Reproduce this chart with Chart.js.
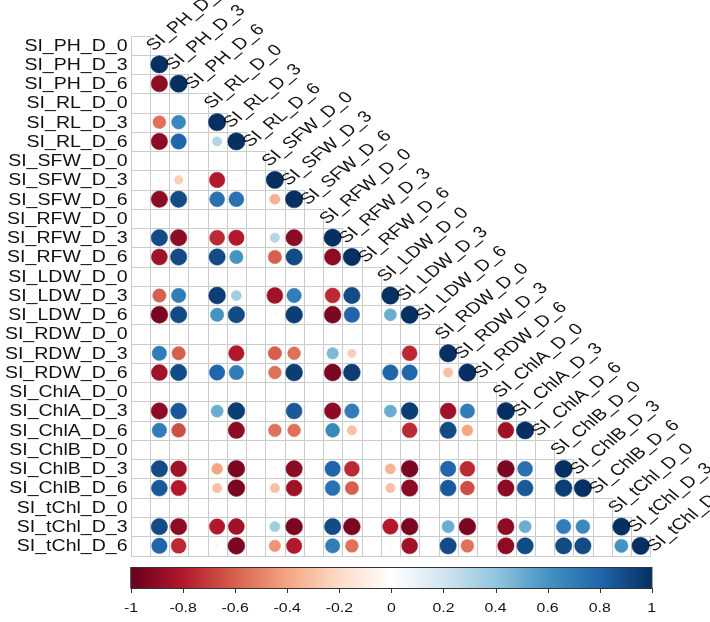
<!DOCTYPE html>
<html>
<head>
<meta charset="utf-8">
<script src="https://cdn.jsdelivr.net/npm/chart.js@4.4.1/dist/chart.umd.min.js"></script>
<style>
  html, body { margin: 0; padding: 0; background: #fff; }
  #corr-chart { display: block; }
</style>
</head>
<body>
<canvas id="corr-chart" width="710" height="622"></canvas>
<script>
//Variable names (rows and columns)
const varNames = [
  "SI_PH_D_0", "SI_PH_D_3", "SI_PH_D_6",
  "SI_RL_D_0", "SI_RL_D_3", "SI_RL_D_6",
  "SI_SFW_D_0", "SI_SFW_D_3", "SI_SFW_D_6",
  "SI_RFW_D_0", "SI_RFW_D_3", "SI_RFW_D_6",
  "SI_LDW_D_0", "SI_LDW_D_3", "SI_LDW_D_6",
  "SI_RDW_D_0", "SI_RDW_D_3", "SI_RDW_D_6",
  "SI_ChlA_D_0", "SI_ChlA_D_3", "SI_ChlA_D_6",
  "SI_ChlB_D_0", "SI_ChlB_D_3", "SI_ChlB_D_6",
  "SI_tChl_D_0", "SI_tChl_D_3", "SI_tChl_D_6"
];

//Lower triangle of the correlation matrix, null = NA (D_0 columns)
const n = null;
const corrLower = [
  [n],
  [n, 1],
  [n, -0.9, 1],
  [n, n, n, n],
  [n, -0.55, 0.65, n, 1],
  [n, -0.9, 0.8, n, 0.3, 1],
  [n, n, n, n, n, n, n],
  [n, 0.05, -0.25, n, -0.8, -0.05, n, 1],
  [n, -0.9, 0.9, n, 0.75, 0.75, n, -0.35, 1],
  [n, n, n, n, n, n, n, n, n, n],
  [n, 0.9, -0.9, n, -0.75, -0.8, n, 0.3, -0.9, n, 1],
  [n, -0.85, 0.9, n, 0.9, 0.6, n, -0.6, 0.9, n, -0.9, 1],
  [n, n, n, n, n, n, n, n, n, n, n, n, n],
  [n, -0.6, 0.7, n, 0.95, 0.35, n, -0.85, 0.7, n, -0.75, 0.9, n, 1],
  [n, -0.95, 0.9, n, 0.6, 0.9, n, -0.05, 0.95, n, -0.95, 0.8, n, 0.5, 1],
  [n, n, n, n, n, n, n, n, n, n, n, n, n, n, n, n],
  [n, 0.7, -0.6, n, 0.02, -0.8, n, -0.6, -0.55, n, 0.45, -0.25, n, -0.05, -0.75, n, 1],
  [n, -0.85, 0.9, n, 0.8, 0.7, n, -0.55, 0.95, n, -0.95, 0.95, n, 0.8, 0.8, n, -0.3, 1],
  [n, n, n, n, n, n, n, n, n, n, n, n, n, n, n, n, n, n, n],
  [n, -0.9, 0.85, n, 0.5, 0.95, n, 0.02, 0.85, n, -0.9, 0.7, n, 0.5, 0.95, n, -0.85, 0.7, n, 1],
  [n, 0.7, -0.65, n, 0.02, -0.9, n, -0.55, -0.55, n, 0.65, -0.3, n, 0.05, -0.75, n, 0.9, -0.4, n, -0.85, 1],
  [n, n, n, n, n, n, n, n, n, n, n, n, n, n, n, n, n, n, n, n, n, n],
  [n, 0.9, -0.85, n, -0.4, -0.95, n, -0.05, -0.9, n, 0.8, -0.75, n, -0.35, -0.95, n, 0.8, -0.75, n, -0.95, 0.75, n, 1],
  [n, 0.85, -0.8, n, -0.3, -0.95, n, -0.3, -0.85, n, 0.75, -0.6, n, -0.3, -0.9, n, 0.85, -0.65, n, -0.9, 0.85, n, 0.95, 1],
  [n, n, n, n, n, n, n, n, n, n, n, n, n, n, n, n, n, n, n, n, n, n, n, n, n],
  [n, 0.9, -0.9, n, -0.8, -0.85, n, 0.35, -0.95, n, 0.9, -0.95, n, -0.8, -0.95, n, 0.5, -0.95, n, -0.9, 0.5, n, 0.7, 0.65, n, 1],
  [n, 0.8, -0.75, n, -0.05, -0.95, n, -0.45, -0.8, n, 0.7, -0.55, n, 0.03, -0.85, n, 0.9, -0.55, n, -0.9, 0.9, n, 0.9, 0.9, n, 0.6, 1]
];

//Colour legend ticks and RdBu palette (from -1 to 1)
const legendTicks = [-1, -0.8, -0.6, -0.4, -0.2, 0, 0.2, 0.4, 0.6, 0.8, 1];
const rdbu = [
  "#67001F", "#B2182B", "#D6604D", "#F4A582", "#FDDBC7", "#FFFFFF",
  "#D1E5F0", "#92C5DE", "#4393C3", "#2166AC", "#053061"
];

const hexToRgb = (h) => [1, 3, 5].map(i => parseInt(h.slice(i, i + 2), 16));

const colorFor = (v) => {
  const t = (v + 1) / 2 * (rdbu.length - 1);
  const i = Math.min(Math.floor(t), rdbu.length - 2);
  const f = t - i;
  const a = hexToRgb(rdbu[i]), b = hexToRgb(rdbu[i + 1]);
  const c = a.map((x, k) => Math.round(x + (b[k] - x) * f));
  return `rgb(${c[0]}, ${c[1]}, ${c[2]})`;
};

//Points for each non-NA cell
const cellData = [];
corrLower.forEach((row, r) => {
  row.forEach((v, c) => {
    if (v !== null) cellData.push({ x: c + 0.5, y: r + 0.5, v: v });
  });
});

const cellSize = (chart) => {
  const xs = chart.scales.x;
  return Math.abs(xs.getPixelForValue(1) - xs.getPixelForValue(0));
};

const STRETCH = 1.22;
const FONT = '"Liberation Sans", Arial, sans-serif';

const corrPlugin = {
  id: 'corrPlot',
  beforeDatasetsDraw(chart) {
    const { ctx, scales: { x, y } } = chart;
    ctx.save();
    ctx.strokeStyle = '#cccccc';
    ctx.lineWidth = 1;
    for (let r = 0; r < varNames.length; r++) {
      for (let c = 0; c <= r; c++) {
        const x0 = Math.round(x.getPixelForValue(c)) + 0.5;
        const x1 = Math.round(x.getPixelForValue(c + 1)) + 0.5;
        const y0 = Math.round(y.getPixelForValue(r)) + 0.5;
        const y1 = Math.round(y.getPixelForValue(r + 1)) + 0.5;
        ctx.strokeRect(x0, y0, x1 - x0, y1 - y0);
      }
    }
    ctx.restore();
  },
  afterDraw(chart) {
    const { ctx, chartArea, scales: { x, y } } = chart;
    ctx.save();
    ctx.fillStyle = '#111';
    ctx.font = '16px ' + FONT;

    //Row labels on the left
    ctx.textAlign = 'right';
    ctx.textBaseline = 'middle';
    varNames.forEach((name, r) => {
      ctx.save();
      ctx.translate(chartArea.left - 3, y.getPixelForValue(r + 0.5) + 1);
      ctx.scale(STRETCH, 1);
      ctx.fillText(name, 0, 0);
      ctx.restore();
    });

    //Diagonal column labels
    ctx.textAlign = 'left';
    ctx.textBaseline = 'alphabetic';
    varNames.forEach((name, c) => {
      ctx.save();
      ctx.translate(x.getPixelForValue(c + 1) + 4, y.getPixelForValue(c) + 16);
      ctx.scale(STRETCH, 1);
      ctx.rotate(-Math.PI / 4);
      ctx.fillText(name, 0, 0);
      ctx.restore();
    });

    //Colour legend
    const left = chartArea.left, right = chartArea.right + 2;
    const top = 567, bottom = 588;
    const grad = ctx.createLinearGradient(left, 0, right, 0);
    rdbu.forEach((col, i) => grad.addColorStop(i / (rdbu.length - 1), col));
    ctx.fillStyle = grad;
    ctx.fillRect(left, top, right - left, bottom - top);
    ctx.strokeStyle = '#333';
    ctx.lineWidth = 1;
    ctx.strokeRect(left + 0.5, top + 0.5, right - left - 1, bottom - top);

    ctx.fillStyle = '#111';
    ctx.font = '13px ' + FONT;
    ctx.textAlign = 'center';
    ctx.textBaseline = 'middle';
    legendTicks.forEach(t => {
      const px = left + (t + 1) / 2 * (right - left - 1) + 0.5;
      ctx.beginPath();
      ctx.moveTo(Math.round(px) + 0.5, bottom);
      ctx.lineTo(Math.round(px) + 0.5, bottom + 5);
      ctx.stroke();
      ctx.save();
      ctx.translate(px, 608);
      ctx.scale(STRETCH, 1);
      ctx.fillText(String(t), 0, 0);
      ctx.restore();
    });
    ctx.restore();
  }
};

const corrCanvas = document.getElementById("corr-chart");

let corrChart = new Chart(corrCanvas, {
  type: 'scatter',
  data: {
    datasets: [{
      data: cellData,
      backgroundColor: (ctx) => ctx.raw ? colorFor(ctx.raw.v) : '#fff',
      borderColor: (ctx) => ctx.raw ? colorFor(ctx.raw.v) : '#fff',
      borderWidth: 0.5,
      pointRadius: (ctx) => ctx.raw ? 0.45 * Math.sqrt(Math.abs(ctx.raw.v)) * cellSize(ctx.chart) : 0,
      pointHoverRadius: (ctx) => ctx.raw ? 0.45 * Math.sqrt(Math.abs(ctx.raw.v)) * cellSize(ctx.chart) : 0
    }]
  },
  options: {
    responsive: false,
    animation: false,
    layout: {
      padding: { left: 130.5, top: 35.5, right: 59.75, bottom: 66.5 }
    },
    scales: {
      x: { type: 'linear', min: 0, max: 27, display: false },
      y: { type: 'linear', min: 0, max: 27, reverse: true, display: false }
    },
    plugins: {
      legend: { display: false },
      tooltip: { enabled: false }
    }
  },
  plugins: [corrPlugin]
});
</script>
</body>
</html>
